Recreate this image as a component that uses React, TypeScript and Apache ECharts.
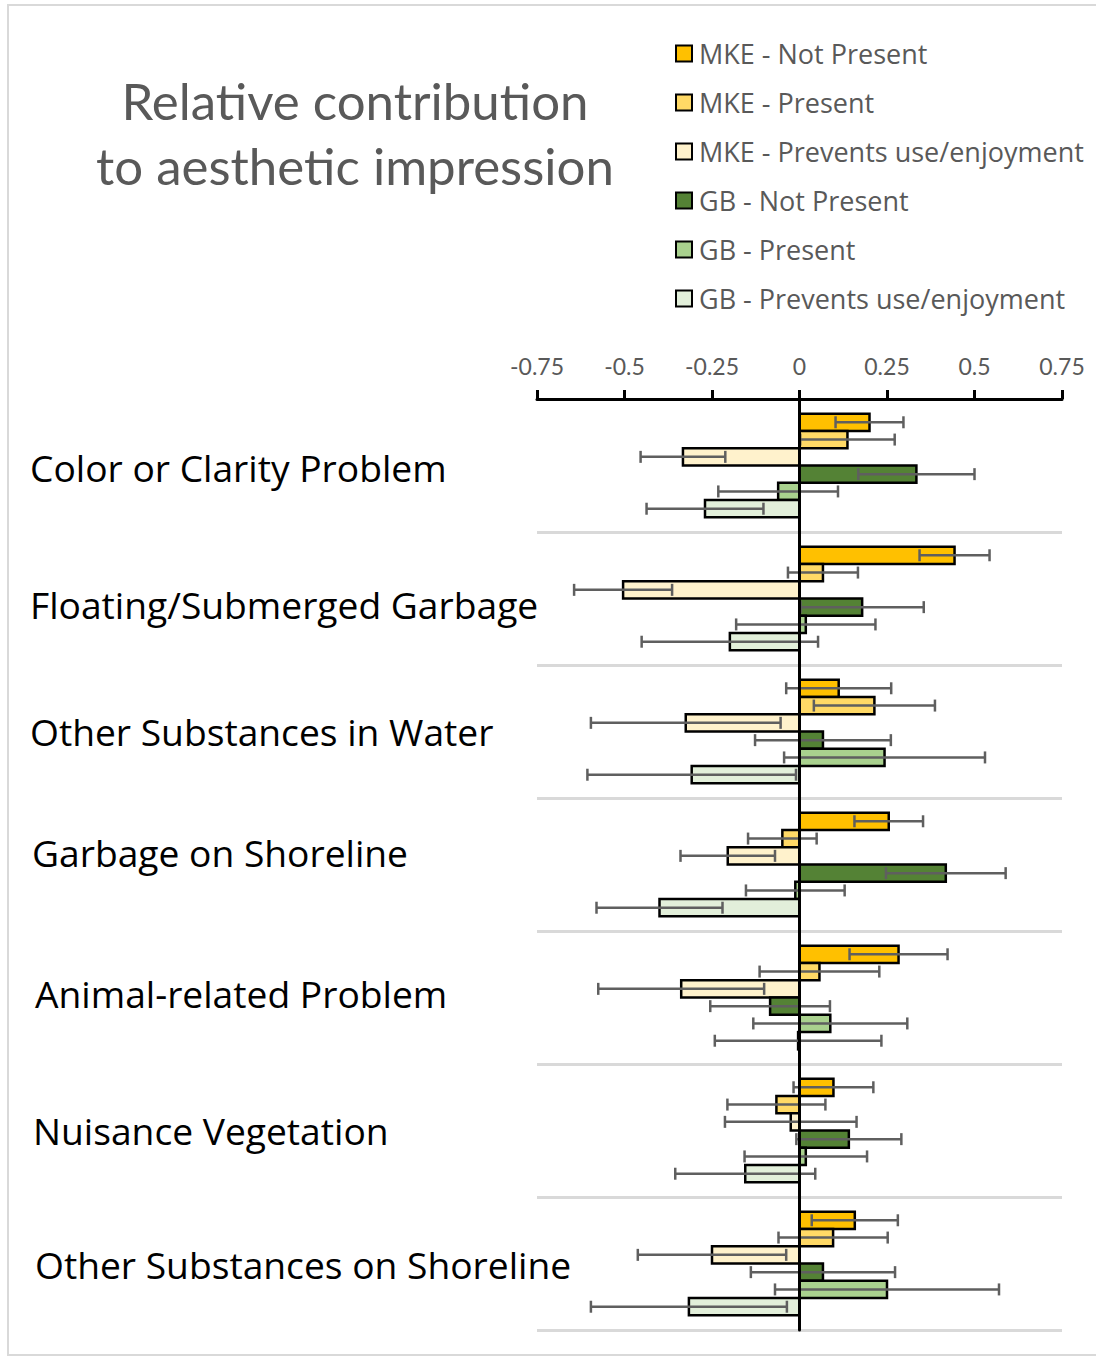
import React, { useEffect, useRef } from "react";
import * as echarts from "echarts";

const categories = [
  "Color or Clarity Problem",
  "Floating/Submerged Garbage",
  "Other Substances in Water",
  "Garbage on Shoreline",
  "Animal-related Problem",
  "Nuisance Vegetation",
  "Other Substances on Shoreline",
];

const seriesNames = [
  "MKE - Not Present",
  "MKE - Present",
  "MKE - Prevents use/enjoyment",
  "GB - Not Present",
  "GB - Present",
  "GB - Prevents use/enjoyment",
];

const seriesColors = ["#FFC000", "#FFD966", "#FFF2CC", "#548235", "#A9D18E", "#E2EFDA"];

const mkeNotPresent = [0.2, 0.443, 0.112, 0.255, 0.283, 0.097, 0.158];
const mkeNotPresentErr = [0.097, 0.1, 0.15, 0.098, 0.14, 0.114, 0.123];
const mkePresent = [0.137, 0.067, 0.214, -0.049, 0.057, -0.066, 0.096];
const mkePresentErr = [0.135, 0.1, 0.173, 0.098, 0.171, 0.14, 0.156];
const mkePrevents = [-0.333, -0.504, -0.325, -0.205, -0.338, -0.025, -0.25];
const mkePreventsErr = [0.121, 0.14, 0.271, 0.135, 0.237, 0.188, 0.212];
const gbNotPresent = [0.334, 0.179, 0.067, 0.418, -0.084, 0.141, 0.067];
const gbNotPresentErr = [0.166, 0.176, 0.194, 0.171, 0.171, 0.15, 0.206];
const gbPresent = [-0.061, 0.018, 0.243, -0.012, 0.088, 0.018, 0.25];
const gbPresentErr = [0.171, 0.199, 0.287, 0.141, 0.22, 0.175, 0.32];
const gbPrevents = [-0.27, -0.199, -0.308, -0.4, -0.004, -0.155, -0.316];
const gbPreventsErr = [0.167, 0.252, 0.298, 0.18, 0.238, 0.2, 0.28];

const seriesValues = [mkeNotPresent, mkePresent, mkePrevents, gbNotPresent, gbPresent, gbPrevents];
const seriesErrors = [mkeNotPresentErr, mkePresentErr, mkePreventsErr, gbNotPresentErr, gbPresentErr, gbPreventsErr];

const xTickMin = -0.75;
const xTickMax = 0.75;
const xTickStep = 0.25;

// label nudges (style only): [dx, dy] per category label
const labelNudges = [
  [0, 2],
  [0, 6],
  [0, 0],
  [2, -12],
  [5, -4],
  [3, 0],
  [5, 1],
];

const CAT_GAP = 0.22;
const FONT = "Lato, 'Open Sans', sans-serif";
const FONT_WIDE = "'Open Sans', Lato, sans-serif";

export default function App() {
  const ref = useRef<HTMLDivElement>(null);

  useEffect(() => {
    if (!ref.current) return;
    const chart = echarts.init(ref.current, null, { renderer: "svg" });
    const nSeries = seriesNames.length;

    const series = seriesNames.map((name, k) => ({
      name,
      type: "custom",
      xAxisIndex: 0,
      yAxisIndex: 0,
      itemStyle: { color: seriesColors[k], borderColor: "#000", borderWidth: 2 },
      encode: { x: 0, y: 1 },
      data: categories.map((_, i) => [seriesValues[k][i], i, seriesErrors[k][i]]),
      renderItem: (params: any, api: any) => {
        const v = api.value(0);
        const ci = api.value(1);
        const e = api.value(2);
        const base = api.coord([0, ci]);
        const end = api.coord([v, ci]);
        const band = api.size([0, 1])[1];
        const groupH = band * (1 - CAT_GAP);
        const barH = groupH / nSeries;
        const yTop = base[1] - groupH / 2 + k * barH;
        const yc = yTop + barH / 2;
        const lo = api.coord([v - e, ci])[0];
        const hi = api.coord([v + e, ci])[0];
        const cap = 6;
        const errStyle = { stroke: "#5f5f5f", lineWidth: 2.5 };
        return {
          type: "group",
          children: [
            {
              type: "rect",
              shape: {
                x: Math.min(base[0], end[0]),
                y: yTop,
                width: Math.abs(end[0] - base[0]),
                height: barH,
              },
              style: { fill: seriesColors[k], stroke: "#000", lineWidth: 2.5 },
            },
            { type: "line", shape: { x1: lo, y1: yc, x2: hi, y2: yc }, style: errStyle },
            { type: "line", shape: { x1: lo, y1: yc - cap, x2: lo, y2: yc + cap }, style: errStyle },
            { type: "line", shape: { x1: hi, y1: yc - cap, x2: hi, y2: yc + cap }, style: errStyle },
          ],
        };
      },
    }));

    const rich: Record<string, any> = {};
    labelNudges.forEach(([dx, dy], i) => {
      rich["c" + i] = {
        fontSize: 37.2,
        color: "#000",
        fontFamily: FONT_WIDE,
        padding: [dy < 0 ? 0 : dy * 2, 0, dy < 0 ? -dy * 2 : 0, dx],
      };
    });

    chart.setOption({
      animation: false,
      backgroundColor: "#fff",
      textStyle: { fontFamily: FONT },
      graphic: [
        {
          type: "rect",
          shape: { x: 8, y: 5, width: 1100, height: 1350 },
          style: { fill: "none", stroke: "#d9d9d9", lineWidth: 2 },
          silent: true,
        },
        {
          type: "text",
          x: 355,
          y: 100,
          style: {
            text: "Relative contribution",
            textAlign: "center",
            textVerticalAlign: "middle",
            fontSize: 51,
            fontFamily: FONT,
            fill: "#595959",
          },
        },
        {
          type: "text",
          x: 355,
          y: 165,
          style: {
            text: "to aesthetic impression",
            textAlign: "center",
            textVerticalAlign: "middle",
            fontSize: 51,
            fontFamily: FONT,
            fill: "#595959",
          },
        },
      ],
      legend: {
        orient: "vertical",
        left: 670,
        top: 35,
        itemWidth: 16,
        itemHeight: 16,
        itemGap: 22,
        icon: "rect",
        itemStyle: { borderColor: "#000", borderWidth: 2 },
        textStyle: { fontSize: 27, color: "#595959", fontFamily: FONT_WIDE, padding: [0, 0, 0, 2] },
        data: seriesNames,
      },
      grid: { left: 537, right: 34, top: 399, bottom: 28, containLabel: false },
      xAxis: {
        type: "value",
        position: "top",
        min: xTickMin,
        max: xTickMax,
        interval: xTickStep,
        z: 20,
        axisLine: { show: true, lineStyle: { color: "#000", width: 3 } },
        axisTick: { show: true, length: 9, lineStyle: { color: "#000", width: 3 } },
        axisLabel: { color: "#595959", fontSize: 23, margin: 22, fontFamily: FONT },
        splitLine: { show: false },
      },
      yAxis: [
        {
          type: "category",
          inverse: true,
          data: categories,
          position: "left",
          axisLine: { show: true, onZero: true, lineStyle: { color: "#000", width: 3 } },
          axisTick: { show: false },
          axisLabel: { show: false },
          splitLine: { show: true, lineStyle: { color: "#d9d9d9", width: 3 } },
          z: 10,
        },
        {
          type: "category",
          inverse: true,
          data: categories,
          position: "left",
          axisLine: { show: false, onZero: false },
          axisTick: { show: false },
          splitLine: { show: false },
          axisLabel: {
            show: true,
            align: "left",
            margin: 507,
            fontSize: 37.2,
            color: "#000",
            fontFamily: FONT_WIDE,
            formatter: (val: string, idx: number) => `{c${idx}|${val}}`,
            rich,
          },
        },
      ],
      series,
    });

    return () => chart.dispose();
  }, []);

  return (
    <div
      ref={ref}
      style={{ position: "fixed", left: 0, top: 0, width: 1096, height: 1358, background: "#fff" }}
    />
  );
}
